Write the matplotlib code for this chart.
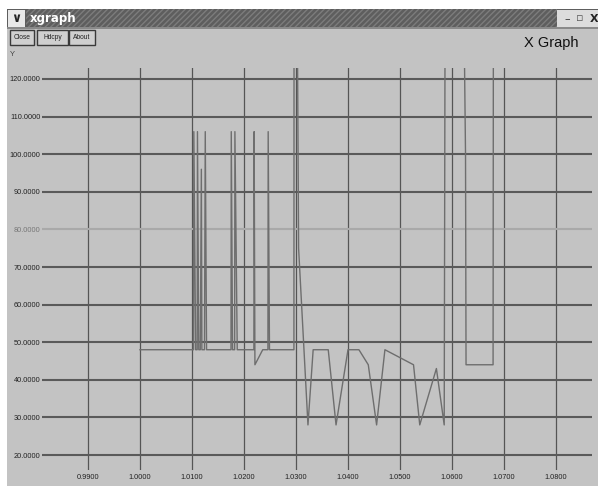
import matplotlib
matplotlib.use("Agg")
import matplotlib.pyplot as plt
from matplotlib.patches import Rectangle

# ---- data ----
t_vals = [1.0000, 1.0103, 1.01035, 1.0107, 1.0110, 1.01105, 1.0113, 1.0116, 1.0118, 1.0119,
          1.0124, 1.01255, 1.0128, 1.0175, 1.01755, 1.0178, 1.0182, 1.01825, 1.0187,
          1.0219, 1.02195, 1.0221, 1.0236, 1.0246, 1.02465, 1.0249,
          1.0296, 1.02962, 1.0303, 1.0305, 1.0323, 1.0333, 1.0362, 1.0377, 1.0400,
          1.0421, 1.0439, 1.0455, 1.0471, 1.0526, 1.0538, 1.0570, 1.0585, 1.05865,
          1.0624, 1.0626, 1.0627, 1.0679, 1.06795]
v_vals = [48, 48, 106, 48, 48, 106, 48, 48, 96, 48,
          48, 106, 48, 48, 106, 48, 48, 106, 48,
          48, 106, 44, 48, 48, 106, 48,
          48, 125, 125, 75, 28, 48, 48, 28, 48,
          48, 44, 28, 48, 44, 28, 43, 28, 125,
          125, 100, 44, 44, 125]
x_ticks = [0.99, 1.00, 1.01, 1.02, 1.03, 1.04, 1.05, 1.06, 1.07, 1.08]
x_labels = ["0.9900", "1.0000", "1.0100", "1.0200", "1.0300", "1.0400",
            "1.0500", "1.0600", "1.0700", "1.0800"]
y_ticks = [20, 30, 40, 50, 60, 70, 80, 90, 100, 110, 120]
y_labels = ["20.0000", "30.0000", "40.0000", "50.0000", "60.0000", "70.0000",
            "80.0000", "90.0000", "100.0000", "110.0000", "120.0000"]
window_title = "xgraph"
graph_title = "X Graph"
buttons = ["Close", "Hdcpy", "About"]

W, H = 598, 486
BG = "#c3c3c3"
fig = plt.figure(figsize=(W / 100, H / 100), dpi=100)
fig.patch.set_facecolor("white")

def fx(px):
    return px / W

def fy(py):
    return 1 - py / H

def rect(x0, y0, x1, y1, **kw):
    r = Rectangle((fx(x0), fy(y1)), fx(x1) - fx(x0), fy(y0) - fy(y1),
                  transform=fig.transFigure, **kw)
    fig.patches.append(r)
    return r

# window background
rect(7, 9, 598, 486, facecolor=BG, edgecolor="none", zorder=0)
# title bar
rect(7, 9, 598, 28, facecolor="#5e5e5e", edgecolor="none", zorder=1)
rect(26, 9, 557, 28, facecolor="none", edgecolor="#7c7c7c", hatch="//////",
     linewidth=0, zorder=1.5)
rect(7, 27, 598, 29, facecolor="#8a8a8a", edgecolor="none", zorder=1.6)
# menu icon
rect(8, 10, 25, 27, facecolor="#e8e8e8", edgecolor="none", zorder=2)
fig.text(fx(16.5), fy(18.5), "\u2228", color="#222222", fontsize=9, fontweight="bold",
         ha="center", va="center", zorder=3)
fig.text(fx(30), fy(18.5), window_title, color="white", fontsize=8.5, fontweight="bold",
         ha="left", va="center", family="DejaVu Sans", zorder=3)
# right controls
rect(557, 10, 598, 27, facecolor="#dcdcdc", edgecolor="none", zorder=2)
fig.text(fx(567), fy(19), "\u2013", color="#333333", fontsize=8, ha="center", va="center", zorder=3)
fig.text(fx(580), fy(18.5), "\u25ab", color="#555555", fontsize=8, ha="center", va="center", zorder=3)
fig.text(fx(594), fy(18.5), "X", color="#222222", fontsize=8, fontweight="bold",
         ha="center", va="center", zorder=3)

# buttons
bx = [(10, 34), (37, 68), (69, 95)]
for (x0, x1), lab in zip(bx, buttons):
    rect(x0, 30, x1, 45, facecolor="#cfcfcf", edgecolor="#3a3a3a", linewidth=1.0, zorder=2)
    fig.text(fx((x0 + x1) / 2), fy(37.5), lab, fontsize=4.8, color="#222222",
             ha="center", va="center", family="Liberation Sans", zorder=3)

fig.text(fx(578), fy(43), graph_title, fontsize=10.5, color="#111111", ha="right",
         va="center", family="Liberation Sans", zorder=3)
fig.text(fx(10), fy(55), "Y", fontsize=5.5, color="#444444", ha="left", va="center",
         family="Liberation Sans", zorder=3)

# plot axes
ax = fig.add_axes([fx(42), fy(470), fx(592) - fx(42), fy(68) - fy(470)])
ax.set_zorder(10)
ax.patch.set_alpha(0)
for s in ax.spines.values():
    s.set_visible(False)
ax.set_xlim(1.0 - 98 / 5200, 1.08 + 36 / 5200)
ax.set_ylim(120 - 391 / 3.76, 120 + 11 / 3.76)

for xv in x_ticks:
    ax.axvline(xv, color="#555555", linewidth=0.9, zorder=1)
for yv in y_ticks:
    c = "#a9a9a9" if yv == 80 else "#5a5a5a"
    ax.axhline(yv, color=c, linewidth=1.5, zorder=1)

ax.plot(t_vals, v_vals, color="#6e6e6e", linewidth=1.0, zorder=2)

ax.set_xticks(x_ticks)
ax.set_xticklabels(x_labels, fontsize=5.3, color="#222222", family="Liberation Sans")
ax.set_yticks(y_ticks)
ax.set_yticklabels(y_labels, fontsize=5.3, color="#222222", family="Liberation Sans")
for lab, yv in zip(ax.get_yticklabels(), y_ticks):
    if yv == 80:
        lab.set_color("#777777")
ax.tick_params(axis="both", length=0)
ax.tick_params(axis="y", pad=1)
ax.tick_params(axis="x", pad=3)

fig.savefig("out.png", dpi=100, facecolor=fig.get_facecolor())
